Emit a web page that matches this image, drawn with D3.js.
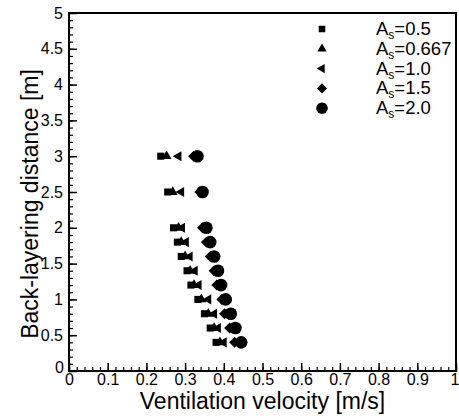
<!DOCTYPE html>
<html>
<head>
<meta charset="utf-8">
<script src="https://cdnjs.cloudflare.com/ajax/libs/d3/7.8.5/d3.min.js"></script>
<style>
  body { margin: 0; background: #fff; }
  svg text { font-family: "Liberation Sans", Arial, sans-serif; fill: #000; }
</style>
</head>
<body>
<svg id="chart"></svg>
<script>
// back-layering distance rows [m]
var distances = [3.0, 2.5, 2.0, 1.8, 1.6, 1.4, 1.2, 1.0, 0.8, 0.6, 0.4];

// ventilation velocity [m/s] for each aspect ratio
var vel_05   = [0.237, 0.255, 0.270, 0.280, 0.290, 0.305, 0.315, 0.333, 0.350, 0.365, 0.380];
var vel_0667 = [0.252, 0.268, 0.283, 0.290, 0.300, 0.313, 0.323, 0.342, 0.360, 0.375, 0.390];
var vel_10   = [0.283, 0.290, 0.292, 0.302, 0.312, 0.325, 0.335, 0.360, 0.375, 0.385, 0.400];
var vel_15   = [0.322, 0.338, 0.345, 0.355, 0.365, 0.375, 0.382, 0.395, 0.402, 0.415, 0.428];
var vel_20   = [0.332, 0.345, 0.355, 0.365, 0.375, 0.385, 0.393, 0.405, 0.418, 0.430, 0.445];

var seriesNames = ["0.5", "0.667", "1.0", "1.5", "2.0"];
var seriesVals = [vel_05, vel_0667, vel_10, vel_15, vel_20];

var xTicks = [0, 0.1, 0.2, 0.3, 0.4, 0.5, 0.6, 0.7, 0.8, 0.9, 1];
var yTicks = [0, 0.5, 1, 1.5, 2, 2.5, 3, 3.5, 4, 4.5, 5];

var W = 459, H = 420;
var margin = { top: 13, right: 3, bottom: 49, left: 69 };
var width = W - margin.left - margin.right;
var height = H - margin.top - margin.bottom;

var svg = d3.select("svg#chart")
  .attr("width", W)
  .attr("height", H);

var g = svg.append("g")
  .attr("transform", "translate(" + margin.left + "," + margin.top + ")");

var x = d3.scaleLinear().domain([0, 1]).range([0, width]);
var y = d3.scaleLinear().domain([0, 5]).range([height, 0]);

// minor ticks
var xMinor = d3.range(0, 1.0001, 0.02);
var yMinor = d3.range(0, 5.0001, 0.1);

g.append("g")
  .attr("transform", "translate(0," + height + ")")
  .call(d3.axisBottom(x).tickValues(xMinor).tickSize(-4).tickFormat(""))
  .call(function (a) { a.select(".domain").remove(); a.selectAll("line").attr("stroke-width", 1.2); });

g.append("g")
  .call(d3.axisLeft(y).tickValues(yMinor).tickSize(-4).tickFormat(""))
  .call(function (a) { a.select(".domain").remove(); a.selectAll("line").attr("stroke-width", 1.2); });

// major ticks
var xAxis = g.append("g")
  .attr("transform", "translate(0," + height + ")")
  .call(d3.axisBottom(x).tickValues(xTicks).tickSizeInner(-8).tickSizeOuter(0).tickPadding(6)
    .tickFormat(function (d) { return d3.format("")(d); }));
xAxis.select(".domain").remove();
xAxis.selectAll("line").attr("stroke-width", 1.5);
xAxis.selectAll("text").style("font-size", "16px").attr("dy", "0.72em").attr("y", 2);
xAxis.selectAll(".tick").filter(function (d) { return d === 1; })
  .select("text").attr("text-anchor", "end").attr("x", 3);

var yAxis = g.append("g")
  .call(d3.axisLeft(y).tickValues(yTicks).tickSizeInner(-8).tickSizeOuter(0).tickPadding(6)
    .tickFormat(function (d) { return d3.format("")(d); }));
yAxis.select(".domain").remove();
yAxis.selectAll("line").attr("stroke-width", 1.5);
yAxis.selectAll("text").style("font-size", "16px").attr("x", -6);
// the 0 label sits a bit low like the original
yAxis.selectAll(".tick").filter(function (d) { return d === 0; })
  .select("text").attr("dy", "0.1em").attr("x", -5);

// frame
g.append("rect")
  .attr("x", 0).attr("y", 0)
  .attr("width", width).attr("height", height)
  .attr("fill", "none").attr("stroke", "#000").attr("stroke-width", 2);

// markers
var shapes = [
  { type: d3.symbolSquare, size: 50, rot: 0 },
  { type: d3.symbolTriangle, size: 44, rot: 0 },
  { type: d3.symbolTriangle, size: 44, rot: -90 },
  { type: d3.symbolSquare, size: 60, rot: 45 },
  { type: d3.symbolCircle, size: 125, rot: 0 }
];

seriesVals.forEach(function (vals, si) {
  var sh = shapes[si];
  g.append("g").selectAll("path")
    .data(vals)
    .enter().append("path")
    .attr("d", d3.symbol().type(sh.type).size(sh.size))
    .attr("fill", "#000")
    .attr("transform", function (d, i) {
      return "translate(" + x(d) + "," + y(distances[i]) + ") rotate(" + sh.rot + ")";
    });
});

// legend
var legend = g.append("g").attr("transform", "translate(253,16)");
seriesNames.forEach(function (name, i) {
  var sh = shapes[i];
  var row = legend.append("g").attr("transform", "translate(0," + (i * 19.8) + ")");
  row.append("path")
    .attr("d", d3.symbol().type(sh.type).size(sh.size * 0.85))
    .attr("transform", "rotate(" + sh.rot + ")")
    .attr("fill", "#000");
  var t = row.append("text")
    .attr("x", 54).attr("y", 6)
    .style("font-size", "18.5px");
  t.append("tspan").text("A");
  t.append("tspan").attr("dy", 4).style("font-size", "12px").text("s");
  t.append("tspan").attr("dy", -4).text("=" + name);
});

// axis titles
svg.append("text")
  .attr("x", margin.left + width / 2)
  .attr("y", 409)
  .attr("text-anchor", "middle")
  .style("font-size", "23px")
  .text("Ventilation velocity [m/s]");

svg.append("text")
  .attr("transform", "translate(38," + (margin.top + height / 2 + 12) + ") rotate(-90)")
  .attr("text-anchor", "middle")
  .style("font-size", "23px")
  .text("Back-layering distance [m]");
</script>
</body>
</html>
